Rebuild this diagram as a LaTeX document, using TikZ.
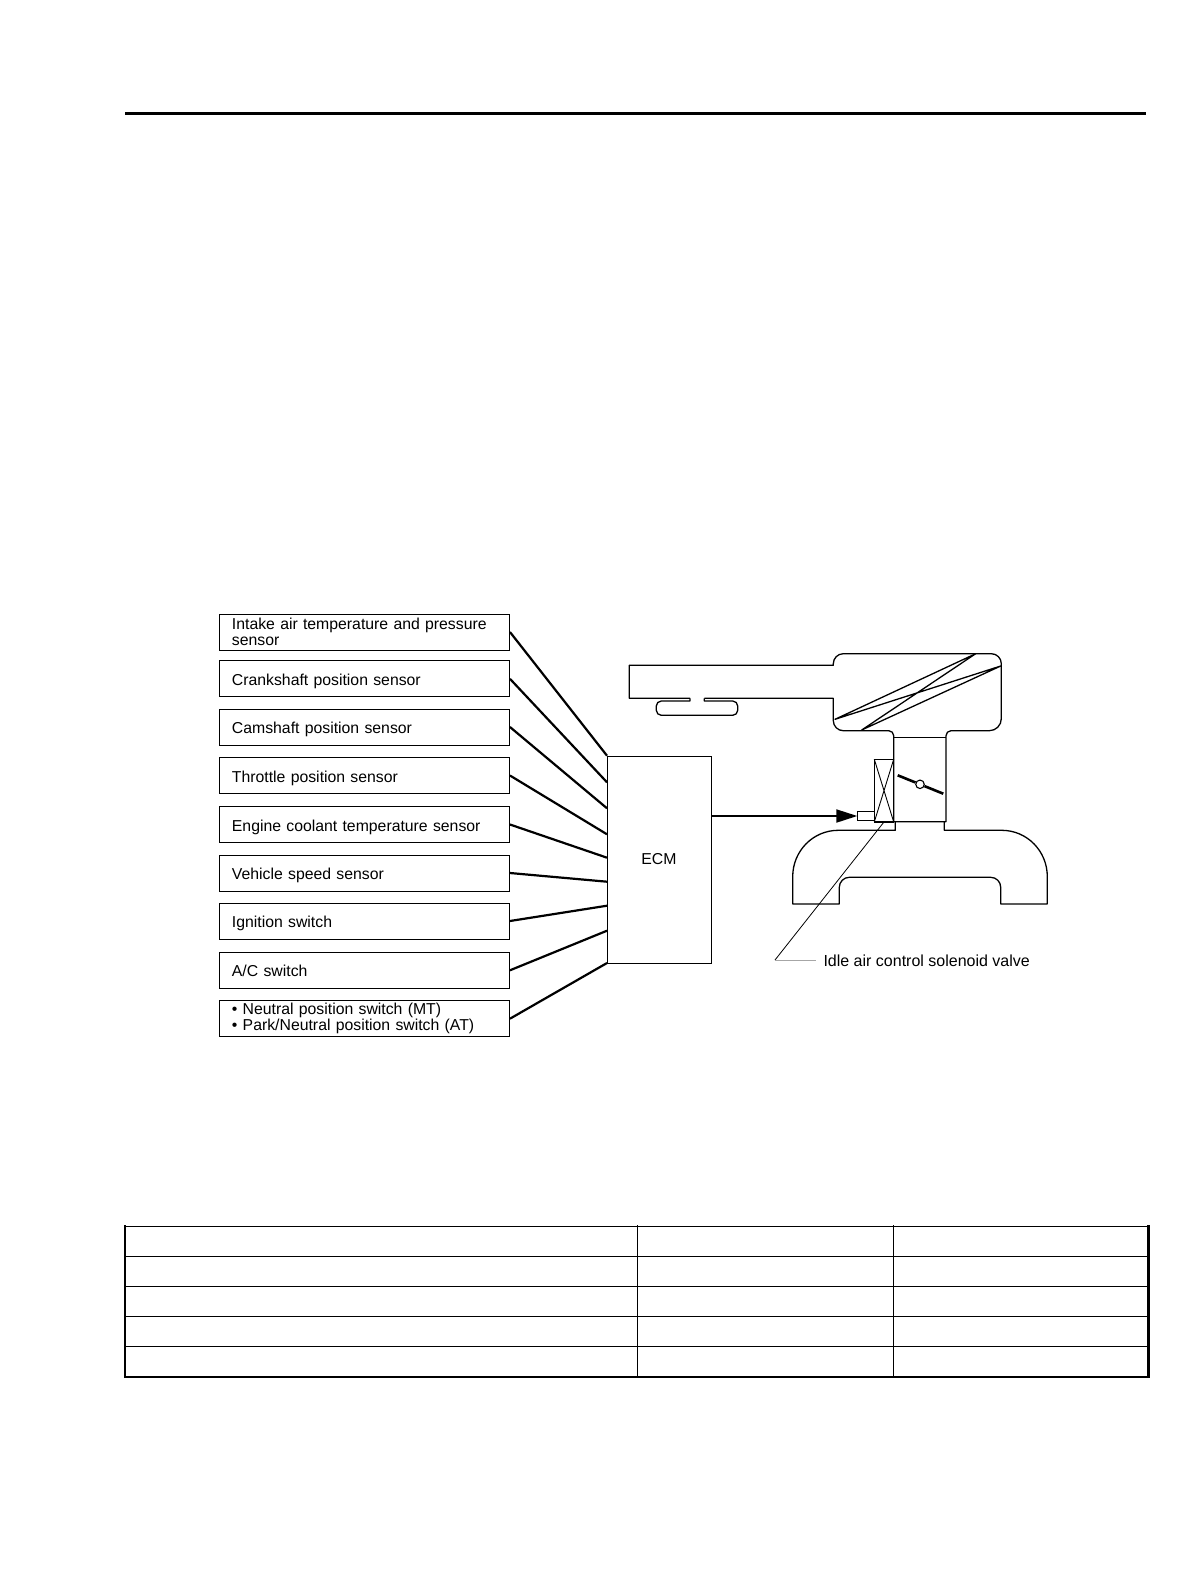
\documentclass[tikz,border=0pt]{standalone}
\usepackage{fontspec}
\setmainfont{Liberation Sans}
\usetikzlibrary{arrows.meta}
\begin{document}
\begin{tikzpicture}[
    x=1pt, y=-1pt,
    sensor/.style={rectangle, draw, line width=1pt, outer sep=0pt, minimum width=290.5pt,
                   minimum height=36pt, inner xsep=12.5pt, inner ysep=0pt, text width=265.5pt,
                   align=left, font=\fontsize{15.8}{16}\selectfont},
    single/.style={sensor, text height=16pt, text depth=3pt},
    ecmbox/.style={rectangle, draw, line width=1pt, outer sep=0pt, minimum width=104pt,
                   minimum height=207pt, font=\fontsize{15.8}{16}\selectfont},
    wire/.style={line width=2.2pt},
    signal/.style={-{Triangle[length=21pt,width=13pt]}, line width=1.9pt},
    engine/.style={line width=1.3pt, line join=round},
    label/.style={font=\fontsize{16}{16}\selectfont, inner sep=0pt},
    tablerule/.style={line width=1.1pt},
    tableedge/.style={line width=2.4pt}
]
\useasboundingbox (0,0) rectangle (1190,1586);

%% Top rule
\coordinate (ruleL) at (125,113.5);
\coordinate (ruleR) at (1146,113.5);
\draw[line width=3pt] (ruleL) -- (ruleR);

%% Sensors
\node[sensor] (intake)  at (364.7,632)    {Intake air temperature and pressure\\sensor};
\node[single] (crank)   at (364.7,678.8)  {Crankshaft position sensor};
\node[single] (cam)     at (364.7,727)    {Camshaft position sensor};
\node[single] (throttle) at (364.7,775.5) {Throttle position sensor};
\node[single] (coolant) at (364.7,824.5)  {Engine coolant temperature sensor};
\node[single] (speed)   at (364.7,873)    {Vehicle speed sensor};
\node[single] (ignition) at (364.7,921)   {Ignition switch};
\node[single] (ac)      at (364.7,970.3)  {A/C switch};
\node[sensor] (neutral) at (364.7,1018.7) {• Neutral position switch (MT)\\• Park/Neutral position switch (AT)};

%% ECM
\node[ecmbox] (ecm) at (659,859.5) {ECM};

%% Wires
\foreach \sensorname/\y in {intake/755.7, crank/782.3, cam/808.3, throttle/834.3, coolant/857.7,
                            speed/881.7, ignition/905.7, ac/930.7, neutral/963}
  \draw[wire] (\sensorname.east) -- (ecm.west |- 0,\y);

%% Air cleaner and pipe
\draw[engine] (690,698.3) -- (629.3,698.3) -- (629.3,665.3) -- (833.3,665.3)
    [rounded corners=10pt] -- (833.3,653.7) -- (1001.3,653.7)
    [rounded corners=12pt] -- (1001.3,730.7)
    [rounded corners=5pt] -- (946,730.7) [sharp corners] -- (946,821.7) -- (893.7,821.7)
    [rounded corners=5pt] -- (893.7,730.7) [rounded corners=10pt] -- (833.3,730.7)
    [sharp corners] -- (833.3,698.3) -- (704.3,698.3);
\draw[engine] (893.7,737.3) -- (946,737.3);

%% Filter
\draw[engine] (835,719.3) -- (975.7,653.7) -- (861.7,730)
              -- (1000.7,666) -- cycle;

%% Resonator
\draw[engine] (690,698.3) -- (690,701)
    [rounded corners=5pt] -- (656.3,701) -- (656.3,715.3) -- (737.7,715.3) -- (737.7,701)
    [sharp corners] -- (704.3,701) -- (704.3,698.3);

%% Throttle plate
\node[circle, draw, fill=white, line width=1.1pt, minimum size=8.5pt, inner sep=0pt] (pivot) at (920,784.3) {};
\coordinate (plateA) at (897.7,775.3);
\coordinate (plateB) at (943.3,793.7);
\draw[line width=2.6pt] (plateA) -- (pivot) (pivot) -- (plateB);

%% Manifold
\draw[engine] (895.3,821.7) -- (895.3,830.3) -- (838.3,830.3)
    .. controls (813,830.3) and (792.7,851) .. (792.7,876.7)
    -- (792.7,904) -- (839.3,904) -- (839.3,888.3)
    [rounded corners=10pt] -- (839.3,877.3) -- (1000.7,877.3)
    [sharp corners] -- (1000.7,904) -- (1047.3,904) -- (1047.3,876.7)
    .. controls (1047.3,851) and (1027,830.3) .. (1001.7,830.3)
    -- (944.3,830.3) -- (944.3,821.7);

%% Solenoid valve
\node[draw, fill=white, line width=1.2pt, outer sep=0pt, minimum width=19.4pt, minimum height=62.7pt, inner sep=0pt] (valve) at (884,790.6) {};
\draw[line width=0.9pt] (valve.north west) -- (valve.south east) (valve.north east) -- (valve.south west);
\node[draw, line width=1.1pt, outer sep=0pt, minimum width=17pt, minimum height=8.6pt, inner sep=0pt] (solenoid) at (865.8,816) {};
\draw[signal] (ecm.east |- solenoid.west) -- (solenoid.west);

%% Leader
\node[label, anchor=west] (valvelabel) at (823.3,961) {Idle air control solenoid valve};
\coordinate (bend) at (775,960);
\draw[line width=0.8pt] (valve.south) -- (bend);
\draw[line width=1pt, gray!70] (bend) -- (816,960);

%% Table
\foreach \y in {1256.5,1286.5,1316.5,1346.5}
  \draw[tablerule] (125,\y) -- (1148.5,\y);
\foreach \x in {637.5,893.5}
  \draw[tablerule] (\x,1225) -- (\x,1377);
\draw[tablerule] (125,1226.5) -- (1148.5,1226.5);
\draw[tableedge, line cap=rect] (125,1226.5) -- (125,1377) -- (1148.5,1377) -- (1148.5,1226.5);

\end{tikzpicture}
\end{document}
